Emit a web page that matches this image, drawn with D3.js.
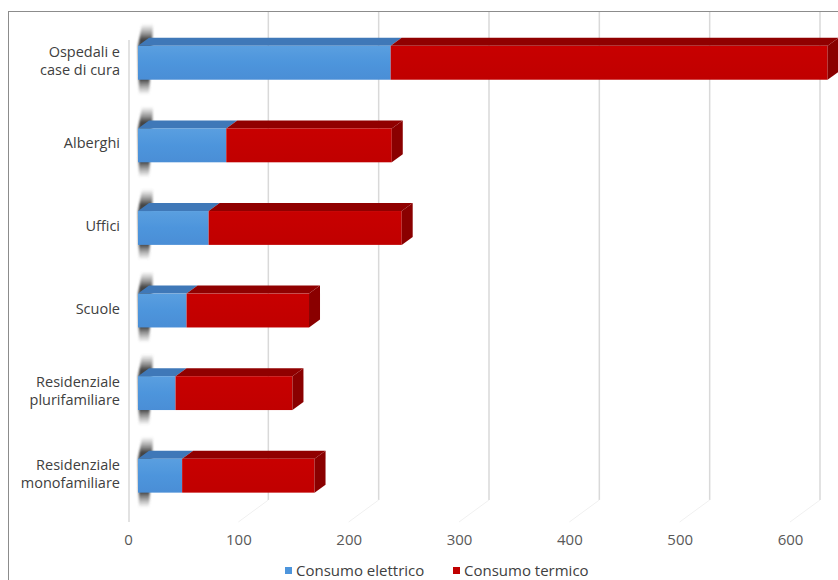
<!DOCTYPE html>
<html><head><meta charset="utf-8">
<script src="https://cdn.jsdelivr.net/npm/d3@7"></script>
<style>body{margin:0;background:#fff}svg{display:block}</style>
</head><body>
<svg id="c" width="838" height="580"></svg>
<script>
const categories = ["Ospedali e\ncase di cura","Alberghi","Uffici","Scuole","Residenziale\nplurifamiliare","Residenziale\nmonofamiliare"];
const elettrico = [229, 80, 64, 44, 34, 40];
const termico   = [396, 150, 175, 111, 106, 120];
const tickValues = [0,100,200,300,400,500,600];
const seriesNames = ["Consumo elettrico","Consumo termico"];

const svg = d3.select("#c");
const FONT = "'Open Sans', Lato, sans-serif";
const W = 838, H = 580;

// front-plane value scale
const x = d3.scaleLinear().domain([0,600]).range([128, 790]);
const y = d3.scaleBand().domain(categories).range([21.5,517]).paddingInner(0.59).paddingOuter(0.295);
const barShift = 10;
const dx = 11, dy = 8;
const wallDx = 30, wallDy = 22;
const plotTop = 12, floorY = 522;

const defs = svg.append("defs");
const blur = defs.append("filter").attr("id","bl").attr("x","-50%").attr("y","-50%").attr("width","200%").attr("height","200%");
blur.append("feGaussianBlur").attr("stdDeviation",1.3);
const sg = defs.append("linearGradient").attr("id","shade").attr("x1",0).attr("y1",0).attr("x2",0).attr("y2",1);
sg.append("stop").attr("offset","0%").attr("stop-color","#707070").attr("stop-opacity",0);
sg.append("stop").attr("offset","22%").attr("stop-color","#454545").attr("stop-opacity",1);
sg.append("stop").attr("offset","78%").attr("stop-color","#454545").attr("stop-opacity",1);
sg.append("stop").attr("offset","100%").attr("stop-color","#707070").attr("stop-opacity",0);
const bg = defs.append("linearGradient").attr("id","blueG").attr("x1",0).attr("y1",0).attr("x2",0).attr("y2",1);
bg.append("stop").attr("offset","0%").attr("stop-color","#5a9fe0");
bg.append("stop").attr("offset","50%").attr("stop-color","#4d95dc");
bg.append("stop").attr("offset","100%").attr("stop-color","#4a8ed6");
const rg = defs.append("linearGradient").attr("id","redG").attr("x1",0).attr("y1",0).attr("x2",0).attr("y2",1);
rg.append("stop").attr("offset","0%").attr("stop-color","#c80000");
rg.append("stop").attr("offset","100%").attr("stop-color","#c00000");

// frame
svg.append("rect").attr("x",8.5).attr("y",11.5).attr("width",W).attr("height",H)
  .attr("fill","none").attr("stroke","#8c8c8c").attr("stroke-width",1);

// back wall gridlines
tickValues.forEach(v=>{
  if(v===0) return;
  const xb = x(v)+wallDx;
  svg.append("line").attr("x1",xb).attr("x2",xb).attr("y1",plotTop).attr("y2",floorY-wallDy)
    .attr("stroke","#d9d9d9").attr("stroke-width",1.5);
  svg.append("line").attr("x1",xb).attr("x2",x(v)).attr("y1",floorY-wallDy).attr("y2",floorY)
    .attr("stroke","#f0f0f0").attr("stroke-width",1);
});
// front axis line
svg.append("line").attr("x1",x(0)+1).attr("x2",x(0)+1).attr("y1",plotTop+28).attr("y2",floorY)
  .attr("stroke","#d9d9d9").attr("stroke-width",1.5);

// shadows on left wall
categories.forEach(c=>{
  const t = y(c), b = y(c)+y.bandwidth();
  const x0 = x(0)+barShift;
  svg.append("path")
    .attr("d",`M${x0+4},${t-22} L${x0+15},${t-22} L${x0+14},${t} L${x0+11},${b+15} L${x0+1},${b+15} L${x0},${t} Z`)
    .attr("fill","url(#shade)").attr("filter","url(#bl)");
});

// bars
const g = svg.append("g");
categories.forEach((c,i)=>{
  const y0 = y(c), y1 = y(c)+y.bandwidth();
  const segs = [
    {a:0, b:elettrico[i], front:"url(#blueG)", top:"#3f78b8", side:"#2f5f96"},
    {a:elettrico[i], b:elettrico[i]+termico[i], front:"url(#redG)", top:"#900000", side:"#8a0000"}
  ];
  segs.forEach((s,k)=>{
    const xa = x(s.a)+barShift, xb = x(s.b)+barShift;
    g.append("path").attr("d",`M${xa},${y0} L${xb},${y0} L${xb+dx},${y0-dy} L${xa+dx},${y0-dy} Z`).attr("fill",s.top);
    g.append("rect").attr("x",xa).attr("y",y0).attr("width",xb-xa).attr("height",y1-y0).attr("fill",s.front);
    if(k===1){
      g.append("path").attr("d",`M${xb},${y0} L${xb+dx},${y0-dy} L${xb+dx},${y1-dy} L${xb},${y1} Z`).attr("fill",s.side);
    }
  });
});

// category labels
categories.forEach(c=>{
  const lines = c.split("\n");
  const cy = y(c)+y.bandwidth()/2 - 2;
  const lh = 18;
  const t = svg.append("text").attr("x",120).attr("text-anchor","end")
    .attr("font-family",FONT).attr("font-size",14.5).attr("fill","#404040");
  lines.forEach((l,j)=>{
    t.append("tspan").attr("x",120).attr("y", cy + (j-(lines.length-1)/2)*lh).attr("dy","0.35em").text(l);
  });
});

// x axis tick labels
const ax = svg.append("g").attr("transform",`translate(0,${floorY})`)
  .call(d3.axisBottom(x).tickValues(tickValues).tickSize(0).tickPadding(12));
ax.select(".domain").remove();
ax.selectAll("text").attr("font-family",FONT).attr("font-size",15).attr("fill","#595959");

// legend
const leg = svg.append("g");
const legX = [285, 453];
const legC = ["#4d95dc","#c00000"];
seriesNames.forEach((n,i)=>{
  leg.append("rect").attr("x",legX[i]).attr("y",567).attr("width",7).attr("height",7).attr("fill",legC[i]);
  leg.append("text").attr("x",legX[i]+11).attr("y",571).attr("dy","0.35em")
    .attr("font-family",FONT).attr("font-size",15).attr("fill","#404040").text(n);
});
</script>
</body></html>
